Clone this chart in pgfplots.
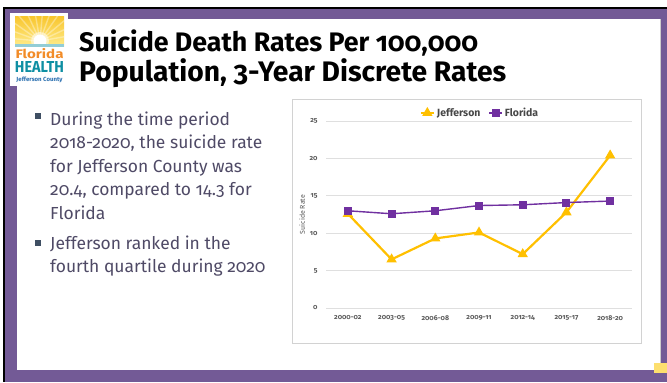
\documentclass[border=0pt]{standalone}
\usepackage{pgfplots}
\pgfplotsset{compat=1.18}
\usepackage{fontspec}
\setmainfont{Fira Sans}[Numbers=OldStyle]
\usepackage{graphicx}

\definecolor{frame}{HTML}{735A96}
\definecolor{jeff}{HTML}{FFC000}
\definecolor{fla}{HTML}{7030A0}
\definecolor{bodytxt}{HTML}{4F4A66}
\definecolor{bullet}{HTML}{3F4F63}
\definecolor{tickgray}{HTML}{595959}
\definecolor{logoY1}{HTML}{FFEB8A}
\definecolor{logoY2}{HTML}{F8C52C}
\definecolor{logoOr}{HTML}{F28C28}
\definecolor{logoTeal}{HTML}{0E8FA3}
\definecolor{logoBlue}{HTML}{2A6FB0}
\definecolor{pageY}{HTML}{FDDF6E}

\pgfplotstableread{
x jeff fla
0 12.6 13.0
1 6.5  12.6
2 9.3  13.0
3 10.1 13.7
4 7.2  13.8
5 12.8 14.1
6 20.4 14.3
}\rates

\begin{document}
\begin{tikzpicture}[x=1bp,y=-1bp]
% slide frame
\fill[white] (0,0) rectangle (667,382);
\fill[black] (3,7) rectangle (667,382);
\fill[frame] (5,9) rectangle (667,382);
\fill[white] (17,19) rectangle (661,370);
\draw[gray!40, line width=0.6] (660,19) -- (660,370);
\fill[pageY] (654,363) rectangle (667,373);

% logo
\fill[white] (10,13) rectangle (68,86);
\begin{scope}
\clip (15,16) rectangle (64,46);
\shade[top color=logoY2, bottom color=logoY1] (15,16) rectangle (64,46);
\foreach \a in {-175,-160,...,-5} \draw[white, opacity=0.35, line width=1.4] (40,41) -- ++(\a:45);
\fill[white, opacity=0.5] (40,41) circle (9);
\fill[white] (40,41) circle (6.5);
\end{scope}
\fill[logoTeal!45] (15,44) rectangle (64,47);
\node[anchor=base, inner sep=0, text=logoOr] at (39.5,58) {\resizebox{48bp}{10bp}{\bfseries Florida}};
\node[anchor=base, inner sep=0, text=logoTeal] at (39.5,72) {\resizebox{49bp}{11bp}{\bfseries HEALTH}};
\node[anchor=base, inner sep=0, text=logoBlue] at (39.5,81) {\resizebox{46bp}{4.5bp}{\bfseries Jefferson County}};

% title
\node[anchor=base west, inner sep=0] at (79,51) {\resizebox{399bp}{!}{\bfseries Suicide Death Rates Per 100,000}};
\node[anchor=base west, inner sep=0] at (79,81) {\resizebox{427bp}{!}{\bfseries Population, 3-Year Discrete Rates}};

% bullets
\fill[bullet] (35,113) rectangle (40.5,118.5);
\fill[bullet] (35,240) rectangle (40.5,245.5);
\begin{scope}[every node/.style={anchor=base west, inner sep=0, text=bodytxt, font=\fontsize{17.5}{21}\selectfont}]
\node at (50,125) {During the time period};
\node at (50,148.5) {2018-2020, the suicide rate};
\node at (50,172) {for Jefferson County was};
\node at (50,195.5) {20.4, compared to 14.3 for};
\node at (50,219) {Florida};
\node at (50,249) {Jefferson ranked in the};
\node at (50,272) {fourth quartile during 2020};
\end{scope}

% chart box
\draw[gray!35, line width=0.8] (292,99) rectangle (641,343);

\begin{axis}[
  at={(326bp,-308bp)}, anchor=south west,
  scale only axis, width=306bp, height=187bp,
  xmin=-0.5, xmax=6.5, ymin=0, ymax=25,
  xtick={0,...,6},
  xticklabels={2000-02,2003-05,2006-08,2009-11,2012-14,2015-17,2018-20},
  ytick={0,5,...,25},
  ymajorgrids, grid style={draw=gray!25, line width=0.9bp},
  axis line style={draw=none}, tick style={draw=none},
  /pgf/number format/assume math mode=true,
  tick label style={font=\bfseries\fontsize{7}{8}\selectfont, text=tickgray},
  yticklabel style={xshift=-5bp},
  xticklabel style={yshift=-4bp},
  ylabel={Suicide Rate},
  ylabel style={at={(axis description cs:-0.078,0.5)}, anchor=center, font=\fontsize{7}{8}\selectfont, text=tickgray},
  legend style={draw=none, fill=none, at={(0.503,1.043)}, anchor=center,
    font=\bfseries\fontsize{10.5}{12}\selectfont, text=tickgray!80!black,
    /tikz/every even column/.append style={column sep=6bp}},
  legend columns=-1,
  legend image code/.code={\draw[mark repeat=2,mark phase=2] plot coordinates {(0cm,0cm) (0.23cm,0cm) (0.46cm,0cm)};},
  clip=false,
]
\addplot[jeff, line width=2.2bp, mark=triangle*, mark size=3.8bp, mark options={solid}] table[x=x, y=jeff] {\rates};
\addlegendentry{Jefferson}
\addplot[fla, line width=1.4bp, mark=square*, mark size=3.3bp] table[x=x, y=fla] {\rates};
\addlegendentry{Florida}
\end{axis}
\end{tikzpicture}
\end{document}
